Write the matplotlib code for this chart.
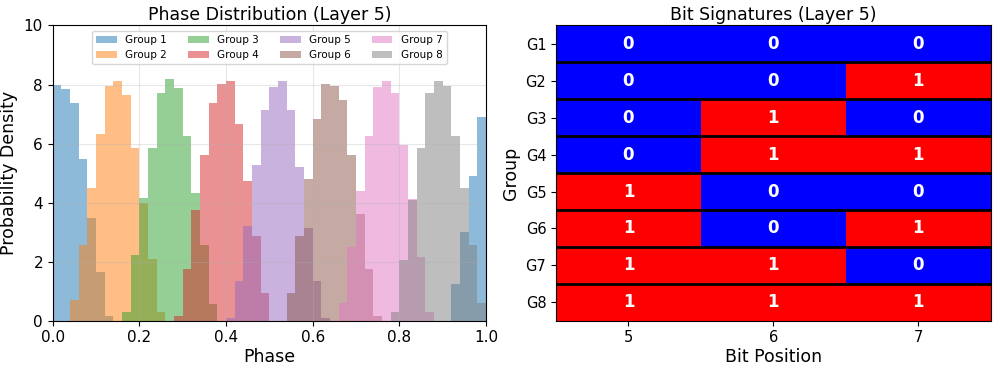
import numpy as np
import matplotlib
matplotlib.use('Agg')
import matplotlib.pyplot as plt

# Histogram bins: 50 bins of width 0.02 over [0, 1]
bin_edges = np.linspace(0, 1, 51)

# Density per bin for each group, read as {bin index: height}
group_names = ['Group 1', 'Group 2', 'Group 3', 'Group 4',
               'Group 5', 'Group 6', 'Group 7', 'Group 8']
group1 = {0: 8.00, 1: 7.84, 2: 7.37, 3: 5.46, 4: 3.48, 5: 1.65, 6: 0.16,
          46: 1.24, 47: 3.00, 48: 4.91, 49: 6.90}
group2 = {2: 0.70, 3: 2.56, 4: 4.48, 5: 6.34, 6: 7.95, 7: 8.11, 8: 7.64,
          9: 5.86, 10: 4.00, 11: 2.09, 12: 0.30}
group3 = {8: 0.30, 9: 2.23, 10: 4.16, 11: 5.86, 12: 7.70, 13: 8.18, 14: 7.87,
          15: 6.25, 16: 4.31, 17: 2.56, 18: 0.55}
group4 = {14: 0.16, 15: 1.75, 16: 3.76, 17: 5.61, 18: 7.37, 19: 8.01, 20: 8.11,
          21: 6.65, 22: 4.73, 23: 2.88, 24: 0.95}
group5 = {20: 0.10, 21: 1.35, 22: 3.21, 23: 5.29, 24: 7.14, 25: 7.92, 26: 8.11,
          27: 7.14, 28: 5.21, 29: 3.13, 30: 1.35, 31: 0.08}
group6 = {27: 0.95, 28: 2.88, 29: 4.80, 30: 6.82, 31: 8.01, 32: 7.95, 33: 7.46,
          34: 5.61, 35: 3.60, 36: 1.75, 37: 0.16}
group7 = {33: 0.61, 34: 2.48, 35: 4.40, 36: 6.25, 37: 7.92, 38: 8.11, 39: 7.70,
          40: 5.95, 41: 4.12, 42: 2.16, 43: 0.30}
group8 = {39: 0.30, 40: 2.06, 41: 4.09, 42: 5.86, 43: 7.70, 44: 8.11, 45: 7.95,
          46: 6.25, 47: 4.48, 48: 2.56, 49: 0.61}
groups = [group1, group2, group3, group4, group5, group6, group7, group8]

# Bit signatures
bit_positions = [5, 6, 7]
group_labels = ['G1', 'G2', 'G3', 'G4', 'G5', 'G6', 'G7', 'G8']
bits = np.array([[0, 0, 0],
                 [0, 0, 1],
                 [0, 1, 0],
                 [0, 1, 1],
                 [1, 0, 0],
                 [1, 0, 1],
                 [1, 1, 0],
                 [1, 1, 1]])

fig = plt.figure(figsize=(9.97, 3.69), dpi=100)
ax1 = fig.add_axes([0.0529, 0.131, 0.4346, 0.800])
ax2 = fig.add_axes([0.5577, 0.131, 0.4360, 0.800])

# Left: phase histograms
colors = plt.cm.tab10.colors
for i, (name, g) in enumerate(zip(group_names, groups)):
    heights = np.zeros(50)
    for k, v in g.items():
        heights[k] = v
    ax1.hist(bin_edges[:-1], bins=bin_edges, weights=heights,
             alpha=0.5, color=colors[i], label=name)
ax1.set_xlim(0, 1)
ax1.set_ylim(0, 10)
ax1.set_xlabel('Phase', fontsize=12.5, labelpad=2)
ax1.set_ylabel('Probability Density', fontsize=12.5)
ax1.set_title('Phase Distribution (Layer 5)', fontsize=12.5, pad=4)
ax1.tick_params(labelsize=11)
ax1.legend(ncol=4, fontsize=7.5, loc='upper center')
ax1.grid(True, alpha=0.3)

# Right: bit signature heatmap
ax2.imshow(bits, cmap='bwr', aspect='auto', vmin=0, vmax=1)
for r in range(bits.shape[0]):
    for c in range(bits.shape[1]):
        ax2.text(c, r, str(bits[r, c]), ha='center', va='center',
                 color='white', fontweight='bold', fontsize=12)
for r in range(bits.shape[0] - 1):
    ax2.axhline(r + 0.5, color='black', linewidth=2)
ax2.set_xticks(range(len(bit_positions)))
ax2.set_xticklabels(bit_positions)
ax2.set_yticks(range(len(group_labels)))
ax2.set_yticklabels(group_labels)
ax2.tick_params(labelsize=10.5)
ax2.set_xlabel('Bit Position', fontsize=12.5, labelpad=2)
ax2.set_ylabel('Group', fontsize=12.5)
ax2.set_title('Bit Signatures (Layer 5)', fontsize=12.5, pad=4)

fig.savefig('out.png', dpi=100)
